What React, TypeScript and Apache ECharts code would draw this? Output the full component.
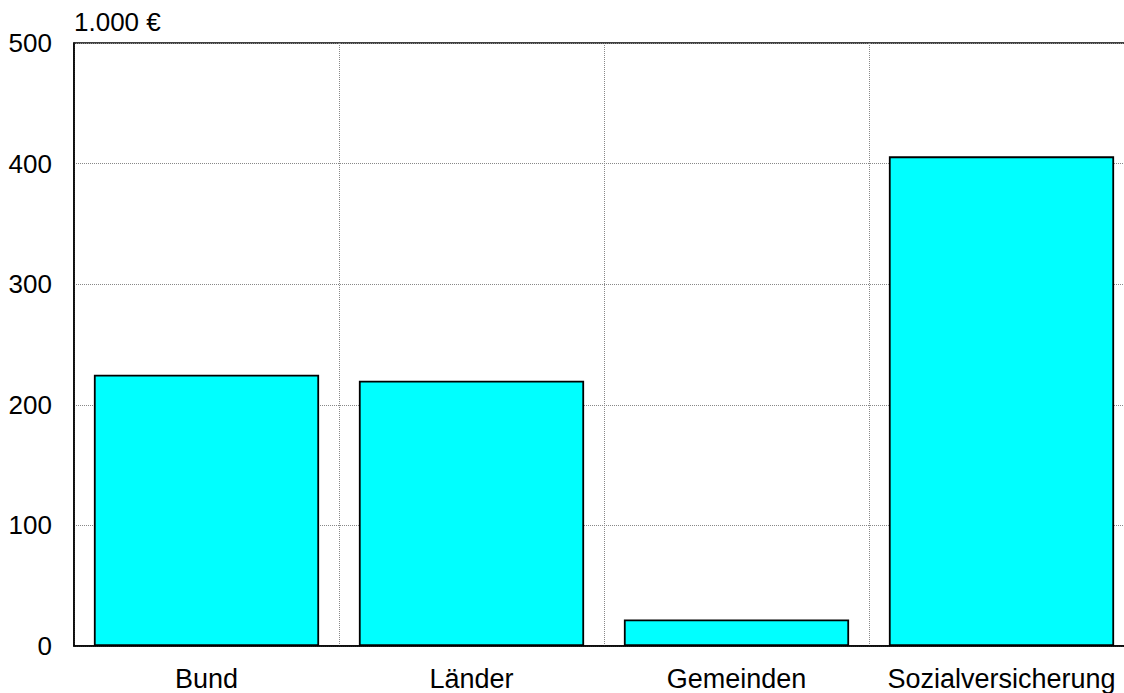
import React, { useEffect, useRef } from "react";
import * as echarts from "echarts";

const categories = ["Bund", "Länder", "Gemeinden", "Sozialversicherung"];
const values = [225, 220, 22, 406];
const yTicks = [0, 100, 200, 300, 400, 500];
const unitLabel = "1.000 €";

export default function App() {
  const ref = useRef<HTMLDivElement>(null);
  useEffect(() => {
    if (!ref.current) return;
    const chart = echarts.init(ref.current, null, { renderer: "svg" });
    const font = "'Liberation Sans', Arial, sans-serif";
    chart.setOption({
      animation: false,
      backgroundColor: "#ffffff",
      grid: {
        left: 74,
        top: 43,
        bottom: 47,
        right: 10,
        show: true,
        borderColor: "#000",
        borderWidth: 1.5,
        backgroundColor: "transparent",
      },
      xAxis: {
        type: "category",
        data: categories,
        boundaryGap: true,
        axisLine: { show: true, lineStyle: { color: "#000", width: 1.5 } },
        axisTick: { show: false },
        axisLabel: { color: "#000", fontSize: 27, fontFamily: font, margin: 19, interval: 0 },
        splitLine: { show: true, lineStyle: { color: "#888", type: "dotted", width: 1 } },
      },
      yAxis: {
        type: "value",
        min: yTicks[0],
        max: yTicks[yTicks.length - 1],
        interval: 100,
        name: unitLabel,
        nameLocation: "end",
        nameGap: 21,
        nameTextStyle: { color: "#000", fontSize: 26, fontFamily: font, align: "left", verticalAlign: "middle" },
        axisLine: { show: true, lineStyle: { color: "#000", width: 1.5 } },
        axisTick: { show: false },
        axisLabel: { color: "#000", fontSize: 26, fontFamily: font, margin: 22 },
        splitLine: { show: true, lineStyle: { color: "#888", type: "dotted", width: 1 } },
      },
      series: [
        {
          type: "bar",
          data: values,
          barCategoryGap: "15%",
          itemStyle: { color: "#00FFFF", borderColor: "#000", borderWidth: 1.8 },
        },
      ],
    });
    return () => chart.dispose();
  }, []);
  return (
    <div style={{ position: "absolute", left: 0, top: 0, width: 1124, height: 693, overflow: "hidden" }}>
      <div ref={ref} style={{ width: 1144, height: 693 }} />
    </div>
  );
}
